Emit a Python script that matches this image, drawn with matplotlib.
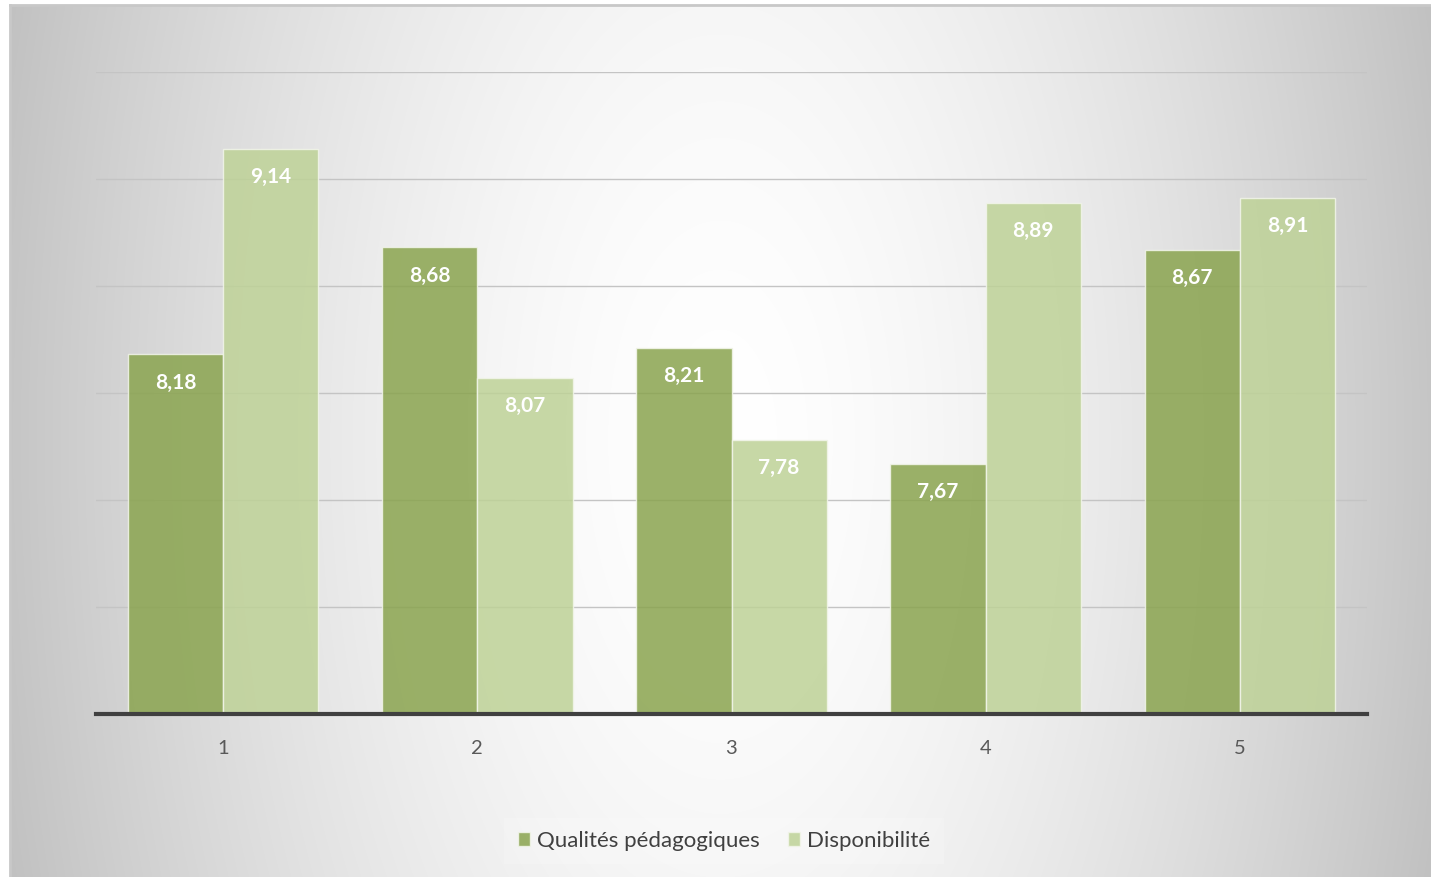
import numpy as np
import matplotlib.pyplot as plt

# data
categories = ['1', '2', '3', '4', '5']
qualites = [8.18, 8.68, 8.21, 7.67, 8.67]
disponibilite = [9.14, 8.07, 7.78, 8.89, 8.91]
series_names = ['Qualités pédagogiques', 'Disponibilité']

plt.rcParams['font.family'] = ['Lato', 'DejaVu Sans']

W, H = 1431, 877
fig = plt.figure(figsize=(W / 100, H / 100), dpi=100)
fig.patch.set_facecolor('white')

# radial grey background (chart area frame)
bg = fig.add_axes([10 / W, 0, (W - 10) / W, (H - 5) / H], zorder=0)
yy, xx = np.mgrid[0:872, 0:1421]
dx = (xx - 710) / 715.0
dy = (yy - 435) / 1400.0
r = np.sqrt(dx ** 2 + dy ** 2)
val = (255 - 58 * r ** 1.6) / 255.0
val = np.clip(val, 0, 1)
bg.imshow(np.dstack([val, val, val]), aspect='auto', interpolation='bilinear')
bg.set_xticks([])
bg.set_yticks([])
for side in ['right', 'bottom']:
    bg.spines[side].set_visible(False)
for side in ['top', 'left']:
    bg.spines[side].set_color('#c8c8c8')
    bg.spines[side].set_linewidth(2)

# plot area
ax = fig.add_axes([96 / W, 163 / H, (1367 - 96) / W, (805 - 163) / H], zorder=1)
ax.patch.set_alpha(0)

x = np.arange(len(categories))
w = 0.375
dark = '#8aa44f'
light = '#bed297'

b1 = ax.bar(x - w / 2, qualites, w, bottom=0, color=dark, alpha=0.85,
            edgecolor='#f2f5ea', linewidth=1, zorder=2, label=series_names[0])
b2 = ax.bar(x + w / 2, disponibilite, w, bottom=0, color=light, alpha=0.85,
            edgecolor='#f2f5ea', linewidth=1, zorder=2, label=series_names[1])

ax.set_ylim(6.5, 9.5)
ax.set_xlim(-0.5, 4.5)
ax.set_yticks(np.arange(7.0, 9.51, 0.5))
ax.yaxis.grid(True, color='#c4c4c4', linewidth=1, zorder=1)
ax.set_axisbelow(True)
ax.tick_params(axis='y', left=False, labelleft=False)
ax.tick_params(axis='x', bottom=False, labelsize=14.5, labelcolor='#595959', pad=15)
ax.set_xticks(x)
ax.set_xticklabels(categories)
for side in ['top', 'right', 'left']:
    ax.spines[side].set_visible(False)
ax.spines['bottom'].set_color('#404040')
ax.spines['bottom'].set_linewidth(3)
ax.spines['bottom'].set_zorder(3)

for bars, vals in [(b1, qualites), (b2, disponibilite)]:
    for bar, v in zip(bars, vals):
        ax.annotate(f'{v:.2f}'.replace('.', ','),
                    (bar.get_x() + bar.get_width() / 2, v),
                    xytext=(0, -28), textcoords='offset pixels',
                    ha='center', va='center', color='white',
                    fontsize=15, fontweight='bold', zorder=4)

leg = fig.legend(handles=[b1, b2], loc='center', bbox_to_anchor=(724 / W, 1 - 841 / H),
                 ncol=2, frameon=True, fontsize=16, handlelength=0.55, handleheight=0.55,
                 handletextpad=0.3, columnspacing=1.3, borderpad=0.6)
leg.get_frame().set_facecolor('white')
leg.get_frame().set_alpha(0.2)
leg.get_frame().set_edgecolor('none')
leg.get_frame().set_boxstyle('square', pad=0)
for t in leg.get_texts():
    t.set_color('#404040')

fig.savefig('out.png', dpi=100)
